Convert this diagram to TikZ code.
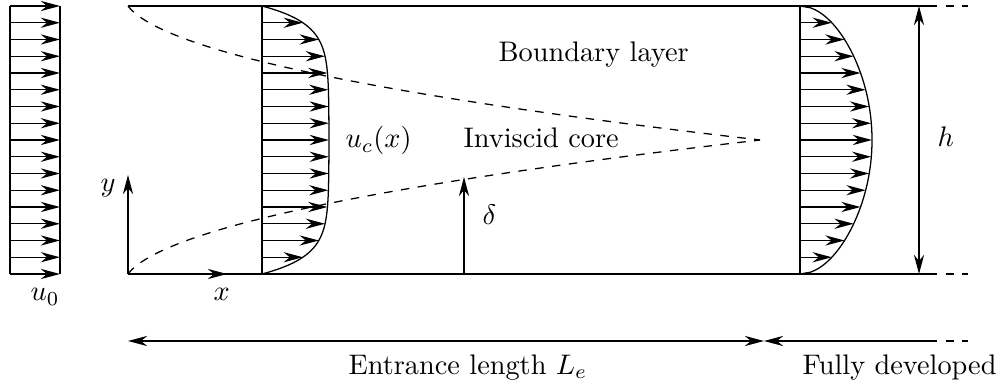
\documentclass[tikz,border=0pt]{standalone}
\usetikzlibrary{arrows.meta}
\begin{document}
\begin{tikzpicture}[x=0.3533pt,y=-0.3533pt,line width=0.45pt,
  arr/.style={-{Stealth[length=6.8pt,width=3.6pt,inset=2.2pt]}},
  darr/.style={{Stealth[length=6.8pt,width=3.6pt,inset=2.2pt]}-{Stealth[length=6.8pt,width=3.6pt,inset=2.2pt]}},
  larr/.style={{Stealth[length=6.8pt,width=3.6pt,inset=2.2pt]}-},
  lbl/.style={inner sep=0pt,anchor=base west},
  blayer/.style={dash pattern=on 3pt off 3pt},
  tail/.style={dash pattern=on 3pt off 3pt,dash phase=3pt}]
\useasboundingbox (0,0) rectangle (1001,385);
% walls
\coordinate (TL) at (128,6);
\coordinate (TR) at (937,6);
\coordinate (TE) at (968,6);
\coordinate (BL) at (128,274);
\coordinate (BR) at (937,274);
\coordinate (BE) at (968,274);
\draw (TL) -- (TR);
\draw[tail] (TR) -- (TE);
\draw (BL) -- (BR);
\draw[tail] (BR) -- (BE);
% axes
\coordinate (yax) at (128,175);
\coordinate (xax) at (227,274);
\draw[arr] (BL) -- (yax);
\draw[arr] (BL) -- (xax);
% inlet profile
\draw (10,6) -- (10,274);
\draw (60,6) -- (60,274);
\foreach \k in {0,...,16}{
  \pgfmathsetmacro\yy{6+16.75*\k}
  \draw[arr] (10,\yy) -- (60,\yy);
}
% developing profile
\draw (262,6) -- (262,274);
\draw plot[domain=6:274,samples=150] ({262+67*(1-exp(-(\x-6)/17.8)-exp(-(274-\x)/17.8))},\x);
\foreach \k in {1,...,15}{
  \pgfmathsetmacro\yy{6+16.75*\k}
  \pgfmathsetmacro\uu{262+67*(1-exp(-(\yy-6)/17.8)-exp(-(274-\yy)/17.8))}
  \draw[arr] (262,\yy) -- (\uu,\yy);
}
% fully developed profile
\draw (800,6) -- (800,274);
\draw plot[domain=6:274,samples=150] ({800+72*sqrt(abs(sin(0.67164*(\x-6))))},\x);
\foreach \k in {1,...,15}{
  \pgfmathsetmacro\yy{6+16.75*\k}
  \pgfmathsetmacro\uu{800+72*sqrt(abs(sin(0.67164*(\yy-6))))}
  \draw[arr] (800,\yy) -- (\uu,\yy);
}
% boundary layer edges
\draw[blayer] plot[domain=2.236:25.239,samples=80] ({123+\x*\x},{6+5.825*(\x-2.236)});
\draw[blayer] plot[domain=2.236:25.239,samples=80] ({123+\x*\x},{274-5.825*(\x-2.236)});
% delta
\coordinate (d0) at (464,274);
\coordinate (d1) at (464,177);
\draw[arr] (d0) -- (d1);
% h
\coordinate (h0) at (919,6);
\coordinate (h1) at (919,274);
\draw[darr] (h0) -- (h1);
% bottom dimension arrows
\coordinate (e0) at (128,341);
\coordinate (e1) at (764,341);
\coordinate (f1) at (937,341);
\coordinate (f2) at (968,341);
\draw[darr] (e0) -- (e1);
\draw[larr] (e1) -- (f1);
\draw[tail] (f1) -- (f2);
% labels
\node[lbl] (blab) at (498,62) {Boundary layer};
\node[lbl] (ic) at (463,148) {Inviscid core};
\node[lbl] (uc) at (345,148) {$u_c(x)$};
\node[lbl] (u0) at (30,301) {$u_0$};
\node[lbl] (xl) at (213,301) {$x$};
\node[lbl] (yl) at (100,192) {$y$};
\node[lbl] (dl) at (482,225) {$\delta$};
\node[lbl] (hl) at (937,147) {$h$};
\node[lbl] (el) at (348,374) {Entrance length $L_e$};
\node[lbl] (fd) at (802,374) {Fully developed};
\end{tikzpicture}
\end{document}
